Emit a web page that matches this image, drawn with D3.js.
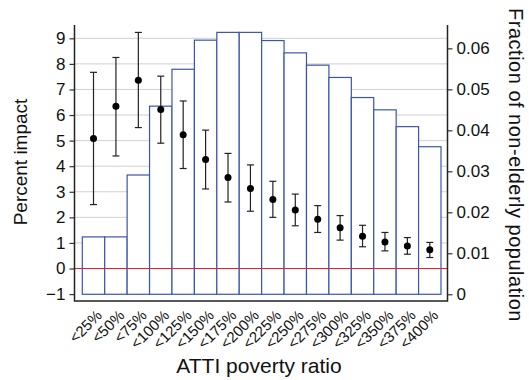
<html>
<head>
  <style>
  body { margin: 0; background: #fff; }
  #chart text { font-family: "Liberation Sans", Arial, sans-serif; fill: #111; }
  </style>
  <script src="https://d3js.org/d3.v7.min.js"></script>
</head>
<body>
  <svg id="chart"></svg>
</body>
  <script>
  // categories on the x axis
  var categories = ["<25%", "<50%", "<75%", "<100%", "<125%", "<150%", "<175%", "<200%",
                    "<225%", "<250%", "<275%", "<300%", "<325%", "<350%", "<375%", "<400%"];
  // fraction of non-elderly population (right axis, bars)
  var fraction = [0.0140, 0.0140, 0.0291, 0.0459, 0.0549, 0.0620, 0.0639, 0.0639,
                  0.0619, 0.0589, 0.0559, 0.0529, 0.0480, 0.0450, 0.0409, 0.0360];
  // percent impact point estimates with interval (left axis)
  var impact = [5.08, 6.34, 7.36, 6.22, 5.23, 4.26, 3.56, 3.13,
                2.70, 2.29, 1.93, 1.59, 1.26, 1.04, 0.88, 0.73];
  var impactLow = [2.50, 4.40, 5.51, 4.90, 3.91, 3.11, 2.60, 2.24,
                   2.00, 1.67, 1.41, 1.11, 0.85, 0.69, 0.56, 0.43];
  var impactHigh = [7.67, 8.25, 9.23, 7.52, 6.55, 5.41, 4.50, 4.05,
                    3.41, 2.91, 2.46, 2.07, 1.69, 1.41, 1.21, 1.02];
  var leftTicks = [-1, 0, 1, 2, 3, 4, 5, 6, 7, 8, 9];
  var rightTicks = [0, 0.01, 0.02, 0.03, 0.04, 0.05, 0.06];

  var width = 529, height = 380;
  var plotL = 74.5, plotR = 447.5, plotT = 25, plotB = 301;

  var svg = d3.select("#chart").attr("width", width).attr("height", height);

  var x = d3.scaleBand().domain(categories).range([82.3, 441]).padding(0);
  var yL = d3.scaleLinear().domain([-1.27, 9.52]).range([plotB, plotT]);
  var yR = d3.scaleLinear().domain([-0.00164, 0.0657]).range([plotB, plotT]);

  // gridlines for left axis
  svg.append("g").selectAll("line")
      .data(leftTicks.filter(function(d) { return d > 0; }))
    .enter().append("line")
      .attr("x1", plotL).attr("x2", plotR)
      .attr("y1", function(d) { return yL(d); })
      .attr("y2", function(d) { return yL(d); })
      .attr("stroke", "#d0d0d0").attr("stroke-width", 1);

  // bars
  svg.append("g").selectAll("rect")
      .data(fraction)
    .enter().append("rect")
      .attr("x", function(d, i) { return x(categories[i]); })
      .attr("y", function(d) { return yR(d); })
      .attr("width", x.bandwidth())
      .attr("height", function(d) { return yR(0) - yR(d); })
      .attr("fill", "#fff")
      .attr("stroke", "#3a55b0").attr("stroke-width", 1.2);

  // zero line
  svg.append("line")
      .attr("x1", plotL).attr("x2", plotR)
      .attr("y1", yL(0)).attr("y2", yL(0))
      .attr("stroke", "#e8202a").attr("stroke-width", 1.2);

  // error bars
  var eb = svg.append("g").selectAll("g")
      .data(impact)
    .enter().append("g")
      .attr("transform", function(d, i) { return "translate(" + (x(categories[i]) + x.bandwidth() / 2) + ",0)"; });
  eb.append("line")
      .attr("y1", function(d, i) { return yL(impactLow[i]); })
      .attr("y2", function(d, i) { return yL(impactHigh[i]); })
      .attr("stroke", "#222").attr("stroke-width", 1.2);
  eb.append("line")
      .attr("x1", -3.5).attr("x2", 3.5)
      .attr("y1", function(d, i) { return yL(impactLow[i]); })
      .attr("y2", function(d, i) { return yL(impactLow[i]); })
      .attr("stroke", "#222").attr("stroke-width", 1.2);
  eb.append("line")
      .attr("x1", -3.5).attr("x2", 3.5)
      .attr("y1", function(d, i) { return yL(impactHigh[i]); })
      .attr("y2", function(d, i) { return yL(impactHigh[i]); })
      .attr("stroke", "#222").attr("stroke-width", 1.2);
  eb.append("circle")
      .attr("cy", function(d) { return yL(d); })
      .attr("r", 3.5)
      .attr("fill", "#000");

  // axes
  var axisLeft = svg.append("g")
      .attr("transform", "translate(" + plotL + ",0)")
      .call(d3.axisLeft(yL).tickValues(leftTicks).tickSize(5).tickPadding(4)
        .tickFormat(function(d) { return d < 0 ? "\u2212" + Math.abs(d) : d; }));
  var axisRight = svg.append("g")
      .attr("transform", "translate(" + plotR + ",0)")
      .call(d3.axisRight(yR).tickValues(rightTicks).tickSize(5).tickPadding(4)
        .tickFormat(function(d) { return d === 0 ? "0" : d3.format(".2f")(d); }));
  [axisLeft, axisRight].forEach(function(a) {
    a.select(".domain").remove();
    a.selectAll("text").attr("font-size", 17).style("fill", "#111");
    a.selectAll(".tick line").attr("stroke", "#333").attr("stroke-width", 1.2);
  });

  // frame: left, bottom, right
  svg.append("path")
      .attr("d", "M" + plotL + "," + plotT + "V" + plotB + "H" + plotR + "V" + plotT)
      .attr("fill", "none").attr("stroke", "#222").attr("stroke-width", 1.5);

  // rotated category labels
  svg.append("g").selectAll("text")
      .data(categories)
    .enter().append("text")
      .attr("transform", function(d) {
        return "translate(" + (x(d) + x.bandwidth() / 2 + 2) + "," + (plotB + 8) + ") rotate(-45)";
      })
      .attr("text-anchor", "end")
      .attr("dy", "0.7em")
      .attr("font-size", 15)
      .text(function(d) { return d; });

  // axis titles
  svg.append("text")
      .attr("transform", "translate(27,162) rotate(-90)")
      .attr("text-anchor", "middle")
      .attr("font-size", 19)
      .text("Percent impact");
  svg.append("text")
      .attr("x", 259).attr("y", 373)
      .attr("text-anchor", "middle")
      .attr("font-size", 21)
      .text("ATTI poverty ratio");
  svg.append("text")
      .attr("transform", "translate(509,165) rotate(90)")
      .attr("text-anchor", "middle")
      .attr("font-size", 20)
      .attr("letter-spacing", 0.5)
      .text("Fraction of non-elderly population");
  </script>
</html>
